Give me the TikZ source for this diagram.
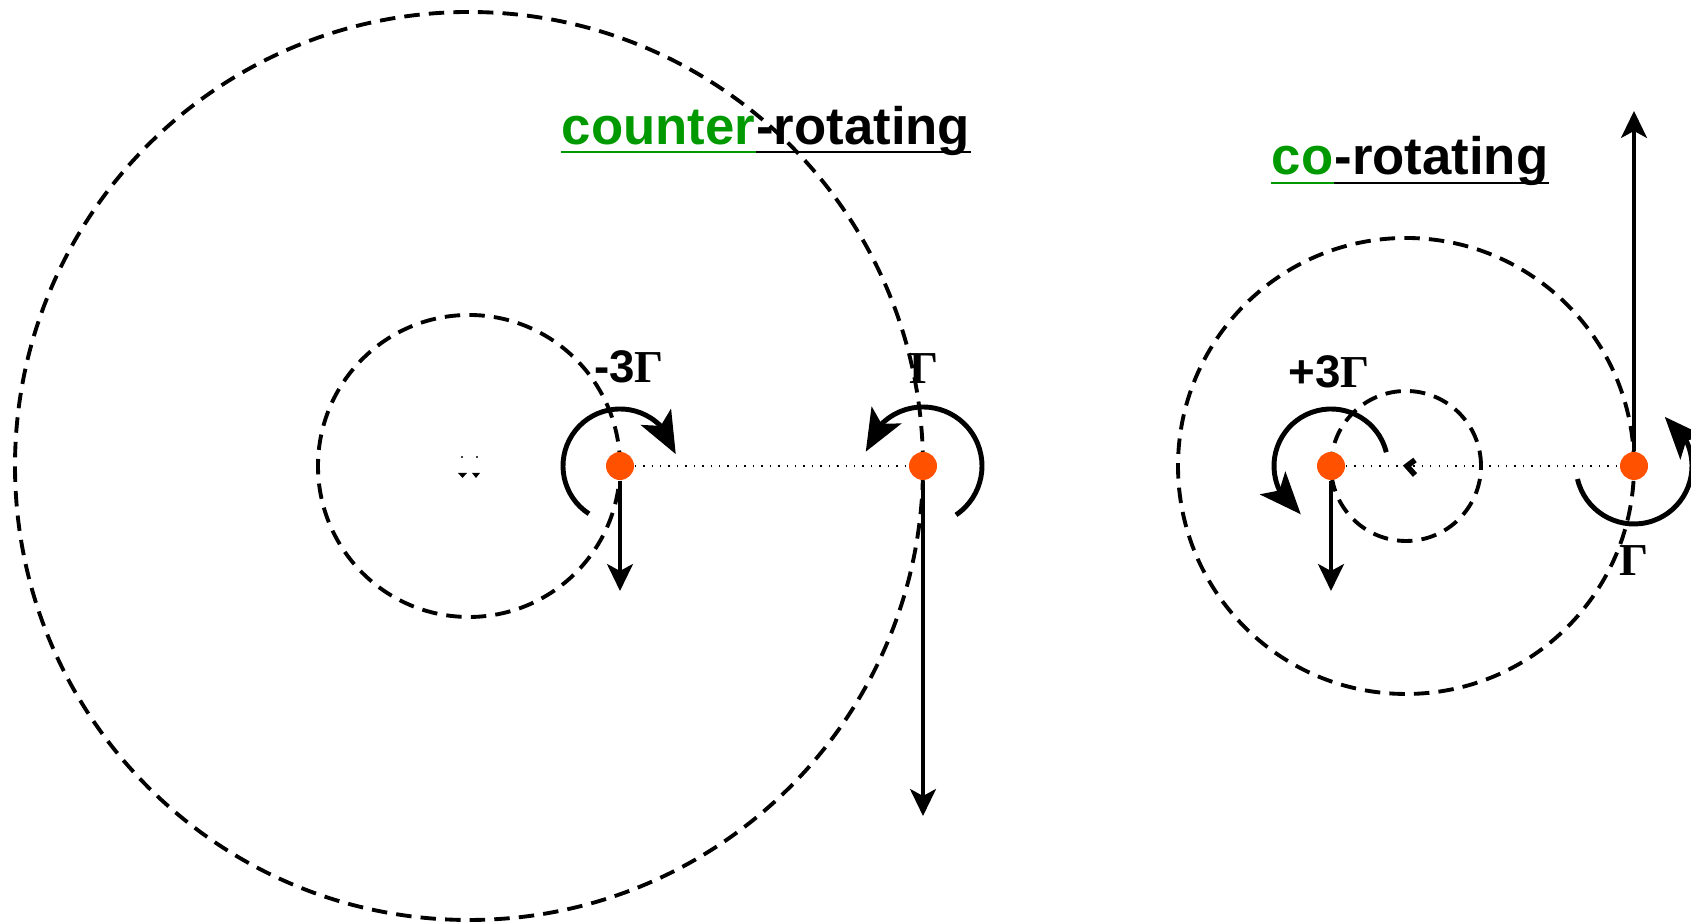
\documentclass[tikz,border=0pt]{standalone}
\usepackage{fontspec}
\setmainfont{Liberation Sans}
\newfontfamily\gammafont{Liberation Serif}
\definecolor{vortexorange}{HTML}{FF5100}
\definecolor{labelgreen}{HTML}{009900}
\usetikzlibrary{arrows.meta,bending,backgrounds}
\newcommand{\Gam}{{\gammafont\bfseries Γ}}

\begin{document}
\begin{tikzpicture}[
  vortex/.style={circle,fill=vortexorange,inner sep=0pt,minimum size=0.28cm},
  orbit/.style={line width=1.1pt,dash pattern=on 4.4pt off 2.6pt},
  spin/.style={line width=1.4pt,-{Stealth[length=0.42cm,width=0.34cm,inset=0.1cm,flex]}},
  vel/.style={line width=0.95pt,-{Stealth[length=0.27cm,width=0.26cm,inset=0.07cm]}},
  strength/.style={font=\fontsize{13}{15}\selectfont\bfseries,inner sep=0pt},
  title/.style={font=\fontsize{15}{18}\selectfont\bfseries,inner sep=0pt,anchor=base west},
  uline/.style={line width=0.8pt}
]
  \useasboundingbox (0,0) rectangle (16.91,9.22);

  % counter-rotating pair
  \coordinate (cL) at (4.69,4.56);
  \node[vortex] (A) at (6.20,4.56) {};
  \node[vortex] (B) at (9.23,4.56) {};
  \coordinate (Av) at (6.20,3.31);
  \coordinate (Bv) at (9.23,1.06);
  \begin{scope}[on background layer]
    \draw[orbit] (cL) circle (1.51);
    \draw[orbit] (cL) circle (4.54);
    \draw[dotted,line width=0.4pt] (A) -- (B);
  \end{scope}
  \draw[spin] ([shift={(237:0.57)}]A.center) arc[start angle=237,end angle=12,radius=0.57];
  \draw[spin] ([shift={(-56:0.59)}]B.center) arc[start angle=-56,end angle=166,radius=0.59];
  \draw[vel] (A) -- (Av);
  \draw[vel] (B) -- (Bv);
  \node[strength] (sA) at (6.29,5.55) {-3\Gam};
  \node[strength] (sB) at (9.24,5.53) {\Gam};
  % marks at the centre
  \fill (4.62,4.65) circle (0.012);
  \fill (4.77,4.65) circle (0.012);
  \fill (4.58,4.49) -- (4.67,4.49) -- (4.625,4.44) -- cycle;
  \fill (4.72,4.49) -- (4.80,4.49) -- (4.76,4.44) -- cycle;

  \node[title,labelgreen] (ctr) at (5.61,7.77) {counter};
  \node[title] (rotA) at (ctr.base east) {-rotating};
  \draw[uline,labelgreen] ([yshift=-0.07cm]ctr.base west) -- ([yshift=-0.07cm]ctr.base east);
  \draw[uline] ([yshift=-0.07cm]rotA.base west) -- ([yshift=-0.07cm]rotA.base east);

  % co-rotating pair
  \coordinate (cR) at (14.06,4.56);
  \node[vortex] (C) at (13.31,4.56) {};
  \node[vortex] (D) at (16.34,4.56) {};
  \coordinate (Cv) at (13.31,3.31);
  \coordinate (Dv) at (16.34,8.11);
  \begin{scope}[on background layer]
    \draw[orbit] (cR) circle (0.75);
    \draw[orbit] (cR) circle (2.28);
    \draw[dotted,line width=0.4pt] (C) -- (D);
  \end{scope}
  \draw[spin] ([shift={(14:0.57)}]C.center) arc[start angle=14,end angle=238,radius=0.57];
  \draw[spin] ([shift={(193:0.58)}]D.center) arc[start angle=193,end angle=418,radius=0.58];
  \draw[vel] (C) -- (Cv);
  \draw[vel] (D) -- (Dv);
  \node[strength] (sC) at (13.29,5.50) {+3\Gam};
  \node[strength] (sD) at (16.34,3.61) {\Gam};
  \draw[line width=1.6pt] (14.15,4.62) -- (14.07,4.56) -- (14.15,4.47);

  \node[title,labelgreen] (co) at (12.71,7.47) {co};
  \node[title] (rotB) at (co.base east) {-rotating};
  \draw[uline,labelgreen] ([yshift=-0.08cm]co.base west) -- ([yshift=-0.08cm]co.base east);
  \draw[uline] ([yshift=-0.08cm]rotB.base west) -- ([yshift=-0.08cm]rotB.base east);
\end{tikzpicture}
\end{document}
